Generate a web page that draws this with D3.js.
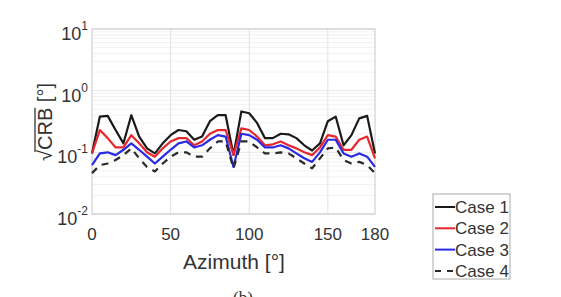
<!DOCTYPE html>
<html>
<head>
<meta charset="utf-8">
<script src="https://cdn.jsdelivr.net/npm/d3@7"></script>
<style>
body { margin: 0; background: #fff; }
svg { display: block; font-family: "Liberation Sans", Arial, sans-serif; }
</style>
</head>
<body>
<svg></svg>
<script>
// chart size
const width = 561;
const height = 297;

// data: azimuth in degrees, sqrt(CRB) in degrees
const azimuth = d3.range(0, 181, 5);
const case1 = [0.096, 0.38, 0.39, 0.23, 0.14, 0.40, 0.18, 0.116, 0.096, 0.14, 0.19, 0.23, 0.22, 0.16, 0.18, 0.32, 0.40, 0.40, 0.091,
    0.46, 0.43, 0.30, 0.17, 0.17, 0.20, 0.196, 0.17, 0.13, 0.107, 0.14, 0.32, 0.38, 0.13, 0.19, 0.355, 0.39, 0.096];
const case2 = [0.096, 0.23, 0.17, 0.12, 0.12, 0.19, 0.14, 0.10, 0.085, 0.116, 0.15, 0.17, 0.17, 0.13, 0.15, 0.20, 0.23, 0.23, 0.091,
    0.245, 0.23, 0.18, 0.13, 0.135, 0.15, 0.13, 0.116, 0.10, 0.09, 0.12, 0.19, 0.18, 0.11, 0.11, 0.16, 0.18, 0.08];
const case3 = [0.062, 0.096, 0.10, 0.09, 0.11, 0.14, 0.11, 0.085, 0.066, 0.085, 0.11, 0.14, 0.15, 0.12, 0.13, 0.16, 0.19, 0.18, 0.058,
    0.20, 0.19, 0.16, 0.12, 0.12, 0.13, 0.116, 0.096, 0.08, 0.07, 0.10, 0.16, 0.16, 0.096, 0.085, 0.096, 0.085, 0.058];
const case4 = [0.046, 0.062, 0.066, 0.075, 0.09, 0.116, 0.08, 0.058, 0.049, 0.066, 0.085, 0.10, 0.10, 0.085, 0.085, 0.116, 0.15, 0.15, 0.055,
    0.15, 0.15, 0.12, 0.096, 0.096, 0.10, 0.096, 0.08, 0.066, 0.055, 0.08, 0.116, 0.12, 0.075, 0.066, 0.07, 0.062, 0.046];
const seriesNames = ["Case 1", "Case 2", "Case 3", "Case 4"];
const xTicks = [0, 50, 100, 150, 180];
const yTicks = [1e-2, 1e-1, 1e0, 1e1];
const yTickExp = ["-2", "-1", "0", "1"];

const styles = [
    { color: "#1a1a1a", dash: null },
    { color: "#e8262b", dash: null },
    { color: "#2a2ae6", dash: null },
    { color: "#2a2a2a", dash: "7,6" }
];

let svg = d3.select("svg").attr("width", width).attr("height", height);

const plot = { left: 92, right: 375, top: 29, bottom: 214 };

const x = d3.scaleLinear().domain([0, 180]).range([plot.left, plot.right]);
const y = d3.scaleLog().domain([1e-2, 1e1]).range([plot.bottom, plot.top]);

// grid
let grid = svg.append("g");
// minor log grid lines (faint)
let minor = [];
for (let e = -2; e < 1; e++) {
    for (let m = 2; m <= 9; m++) minor.push(m * Math.pow(10, e));
}
grid.selectAll("line.minor").data(minor).enter().append("line")
    .attr("x1", plot.left).attr("x2", plot.right)
    .attr("y1", d => y(d)).attr("y2", d => y(d))
    .style("stroke", "#f2f2f2").style("stroke-width", 1);
grid.selectAll("line.major").data(yTicks).enter().append("line")
    .attr("x1", plot.left).attr("x2", plot.right)
    .attr("y1", d => y(d)).attr("y2", d => y(d))
    .style("stroke", "#e6e6e6").style("stroke-width", 1);
grid.selectAll("line.vx").data([50, 100, 150]).enter().append("line")
    .attr("x1", d => x(d)).attr("x2", d => x(d))
    .attr("y1", plot.top).attr("y2", plot.bottom)
    .style("stroke", "#e2e2e2").style("stroke-width", 1);

// box
svg.append("rect")
    .attr("x", plot.left).attr("y", plot.top)
    .attr("width", plot.right - plot.left).attr("height", plot.bottom - plot.top)
    .style("fill", "none").style("stroke", "#c8c8c8").style("stroke-width", 1);

// series lines
const allSeries = [case1, case2, case3, case4];
const line = d3.line()
    .x((d, i) => x(azimuth[i]))
    .y(d => y(d));
allSeries.forEach((s, i) => {
    svg.append("path")
        .attr("d", line(s))
        .style("fill", "none")
        .style("stroke", styles[i].color)
        .style("stroke-width", 2.2)
        .style("stroke-dasharray", styles[i].dash)
        .style("stroke-linejoin", "round");
});

// x axis labels
svg.append("g").selectAll("text").data(xTicks).enter().append("text")
    .attr("x", d => x(d)).attr("y", 240)
    .attr("text-anchor", "middle")
    .style("font-size", "17px").style("fill", "#333")
    .text(d => d);
svg.append("text")
    .attr("x", 234).attr("y", 269)
    .attr("text-anchor", "middle")
    .style("font-size", "21px").style("fill", "#333")
    .text("Azimuth [°]");

// y axis labels
let yl = svg.append("g").selectAll("text").data(yTicks).enter().append("text")
    .attr("x", 88).attr("y", d => y(d) + 11)
    .attr("text-anchor", "end")
    .style("font-size", "18px").style("fill", "#333");
yl.append("tspan").text("10");
yl.append("tspan").attr("dy", -10).style("font-size", "12px").text((d, i) => yTickExp[i]);

// y title: sqrt(CRB) [°] with a bar over CRB
let yt = svg.append("g").attr("transform", "translate(52,122) rotate(-90)");
let ytText = yt.append("text")
    .attr("x", 0).attr("y", 0).attr("text-anchor", "middle")
    .style("font-size", "20px").style("fill", "#333")
    .text("√CRB [°]");
const n = ytText.node();
const c0 = n.getExtentOfChar(1);
const c2 = n.getExtentOfChar(3);
yt.append("line")
    .attr("x1", c0.x - 2).attr("x2", c2.x + c2.width)
    .attr("y1", -17).attr("y2", -17)
    .style("stroke", "#333").style("stroke-width", 1.3);

// caption, cut off at the bottom
svg.append("text")
    .attr("x", 243).attr("y", 303)
    .attr("text-anchor", "middle")
    .style("font-family", "'Liberation Serif', serif")
    .style("font-size", "17px").style("fill", "#333")
    .text("(b)");

// legend
let legend = svg.append("g");
legend.append("rect")
    .attr("x", 433).attr("y", 194).attr("width", 77).attr("height", 85)
    .style("fill", "#fff").style("stroke", "#aaa").style("stroke-width", 1);
seriesNames.forEach((name, i) => {
    const ly = 207 + i * 21.3;
    legend.append("line")
        .attr("x1", 435).attr("x2", 455).attr("y1", ly).attr("y2", ly)
        .style("stroke", styles[i].color).style("stroke-width", 2)
        .style("stroke-dasharray", i === 3 ? "6,6" : null);
    legend.append("text")
        .attr("x", 455).attr("y", ly + 6)
        .style("font-size", "17px").style("fill", "#333")
        .text(name);
});
</script>
</body>
</html>
